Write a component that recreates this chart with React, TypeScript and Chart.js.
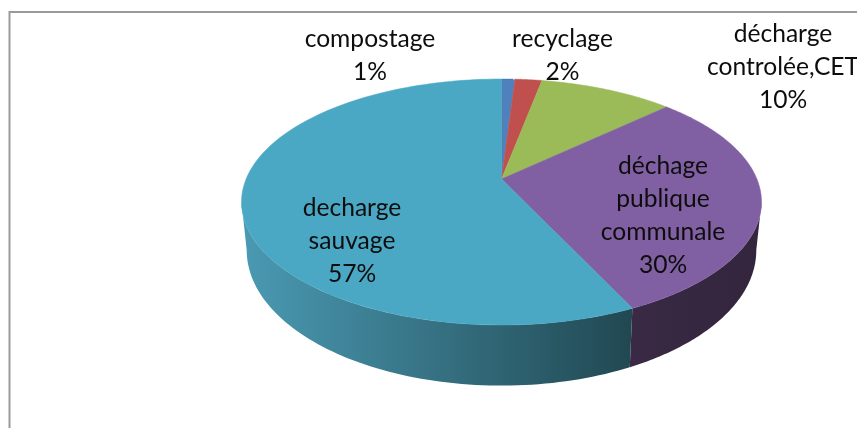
import React, { useEffect, useRef } from "react";
import { Chart, registerables } from "chart.js";

Chart.register(...registerables);

const categories = ["compostage", "recyclage", "décharge controlée,CET", "déchage publique communale", "decharge sauvage"];
const values = [1, 2, 10, 30, 57];
const topColors = ["#4f81bd", "#c0504d", "#9bbb59", "#8060a2", "#4ba8c4"];
const sideStops: string[][] = [
  ["#2f4d71", "#2f4d71"],
  ["#73302e", "#73302e"],
  ["#5d7035", "#5d7035"],
  ["#3a2a45", "#32253c"],
  ["#4a9ab3", "#214852"],
];
const labelLines = [["compostage"], ["recyclage"], ["décharge", "controlée,CET"], ["déchage", "publique", "communale"], ["decharge", "sauvage"]];
const labelCenters = [[370, 39], [562.5, 39], [783, 34], [663, 166], [352, 208]];

const APEX_X = 501.5, APEX_Y = 179, RX = 255.4, RY = 118.7, P = 0.187;
const BOTTOM_SX = 0.98, BOTTOM_SY = 1.1, BOTTOM_DY = 46;
const LINE = 33;
const FONT = '24.6px Lato, "Open Sans", sans-serif';

function top(a: number) {
  const w = 1 - P * Math.sin(a);
  return [RX * Math.cos(a) / w, RY * Math.sin(a) / w];
}
const topPt = (a: number) => { const [x, y] = top(a); return [APEX_X + x, APEX_Y + y]; };
const botPt = (a: number) => { const [x, y] = top(a); return [APEX_X + x * BOTTOM_SX, APEX_Y + BOTTOM_DY + y * BOTTOM_SY]; };

const pie3d = {
  id: "pie3d",
  beforeDraw(chart: any) {
    const ctx = chart.ctx;
    ctx.save();
    ctx.fillStyle = "#fff";
    ctx.fillRect(0, 0, chart.width, chart.height);
    ctx.strokeStyle = "#9a9a9a";
    ctx.lineWidth = 2;
    ctx.beginPath();
    ctx.moveTo(9.5, chart.height);
    ctx.lineTo(9.5, 12);
    ctx.lineTo(chart.width, 12);
    ctx.stroke();
    ctx.restore();
  },
  beforeDatasetDraw(chart: any, args: any) {
    const ctx = chart.ctx;
    const arcs = args.meta.data;
    const visLo = Math.asin(P), visHi = Math.PI - Math.asin(P);
    ctx.save();
    // side walls
    arcs.forEach((arc: any, i: number) => {
      const a0 = Math.max(arc.startAngle, visLo);
      const a1 = Math.min(arc.endAngle, visHi);
      if (a1 <= a0) return;
      const n = 80;
      const g = ctx.createLinearGradient(i === 4 ? 241 : 629, 0, i === 4 ? 632 : 760, 0);
      g.addColorStop(0, sideStops[i][0]);
      g.addColorStop(1, sideStops[i][1]);
      ctx.fillStyle = g;
      ctx.beginPath();
      for (let k = 0; k <= n; k++) {
        const [x, y] = topPt(a0 + (a1 - a0) * k / n);
        k ? ctx.lineTo(x, y) : ctx.moveTo(x, y);
      }
      for (let k = n; k >= 0; k--) {
        const [x, y] = botPt(a0 + (a1 - a0) * k / n);
        ctx.lineTo(x, y);
      }
      ctx.closePath();
      ctx.fill();
    });
    // top faces
    arcs.forEach((arc: any, i: number) => {
      const n = 120;
      ctx.fillStyle = topColors[i];
      ctx.strokeStyle = topColors[i];
      ctx.lineWidth = 0.5;
      ctx.beginPath();
      ctx.moveTo(APEX_X, APEX_Y);
      for (let k = 0; k <= n; k++) {
        const [x, y] = topPt(arc.startAngle + (arc.endAngle - arc.startAngle) * k / n);
        ctx.lineTo(x, y);
      }
      ctx.closePath();
      ctx.fill();
      ctx.stroke();
    });
    // labels
    ctx.fillStyle = "#0d0d0d";
    ctx.font = FONT;
    ctx.textAlign = "center";
    ctx.textBaseline = "middle";
    labelLines.forEach((lines, i) => {
      const [cx, cy] = labelCenters[i];
      [...lines, `${values[i]}%`].forEach((t, j) => ctx.fillText(t, cx, cy + j * LINE));
    });
    ctx.restore();
    return false;
  },
};

export default function App() {
  const ref = useRef<HTMLCanvasElement | null>(null);
  useEffect(() => {
    const chart = new Chart(ref.current!, {
      type: "pie",
      data: { labels: categories, datasets: [{ data: values, backgroundColor: topColors, borderWidth: 0 }] },
      options: {
        responsive: false,
        animation: false,
        plugins: { legend: { display: false }, tooltip: { enabled: false } },
      },
      plugins: [pie3d],
    } as any);
    return () => chart.destroy();
  }, []);
  return <canvas ref={ref} width={857} height={428} style={{ position: "fixed", left: 0, top: 0, display: "block" }} />;
}
